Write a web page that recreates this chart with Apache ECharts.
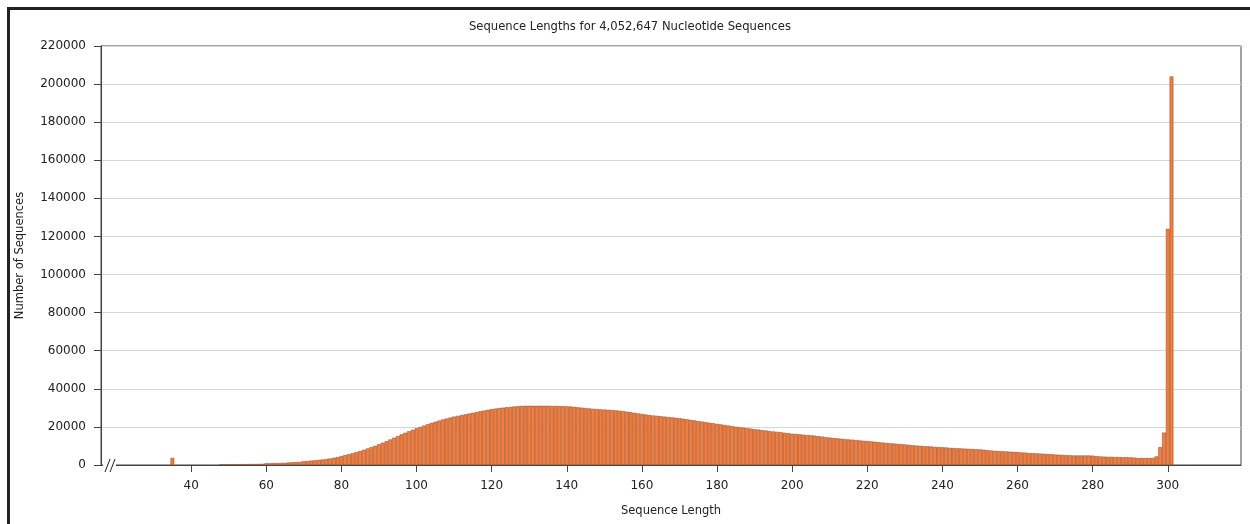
<!DOCTYPE html>
<html>
<head>
<meta charset="utf-8">
<title>Sequence Lengths</title>
<script src="https://cdn.jsdelivr.net/npm/echarts@6/dist/echarts.min.js"></script>
<style>
  html, body {margin: 0; padding: 0; background: #fff;}
  #seqLenChart {position: absolute; left: 0; top: 0; width: 1250px; height: 524px;}
  #frame {position: absolute; left: 7px; top: 7px; right: 0; bottom: 0; border-left: 3px solid #222; border-top: 3px solid #222; pointer-events: none;}
</style>
</head>
<body>
<div id="seqLenChart"></div>
<div id="frame"></div>
<script>
// sequence lengths and counts
const lonePeakLength = [35];
const lonePeakCount = [3700];

const firstLength = 48;
const counts = [
  // 48 - 59
  350, 380, 400, 400, 420, 430, 450, 470, 500, 520, 550, 600,
  // 60 - 79
  900, 950, 1000, 1050, 1100, 1150, 1350, 1450, 1550, 1650,
  2000, 2150, 2300, 2450, 2700, 2900, 3150, 3400, 3800, 4200,
  // 80 - 99
  4700, 5200, 5700, 6200, 6800, 7400, 8000, 8700, 9400, 10100,
  10900, 11700, 12500, 13400, 14300, 15200, 16100, 16900, 17700, 18500,
  // 100 - 119
  19300, 20000, 20700, 21400, 22100, 22700, 23300, 23900, 24400, 24900,
  25400, 25800, 26200, 26600, 27000, 27400, 27800, 28200, 28600, 29000,
  // 120 - 139
  29300, 29600, 29900, 30100, 30300, 30500, 30700, 30900, 31000, 31100,
  31100, 31100, 31100, 31100, 31100, 31100, 31000, 31000, 31000, 30900,
  // 140 - 159
  30800, 30700, 30500, 30300, 30100, 29900, 29700, 29500, 29400, 29200,
  29100, 29000, 28900, 28700, 28500, 28300, 28000, 27700, 27400, 27100,
  // 160 - 179
  26800, 26500, 26200, 26000, 25800, 25600, 25400, 25200, 25000, 24800,
  24600, 24300, 24000, 23700, 23400, 23100, 22800, 22500, 22200, 21900,
  // 180 - 199
  21600, 21300, 21000, 20700, 20400, 20100, 19800, 19600, 19300, 19100,
  18800, 18600, 18300, 18100, 17800, 17600, 17400, 17200, 16900, 16700,
  // 200 - 219
  16400, 16300, 16100, 15900, 15700, 15600, 15400, 15100, 14900, 14600,
  14400, 14200, 14000, 13800, 13600, 13400, 13300, 13100, 12900, 12700,
  // 220 - 239
  12600, 12400, 12200, 12000, 11800, 11600, 11400, 11300, 11100, 11000,
  10800, 10600, 10400, 10200, 10100, 9900, 9800, 9700, 9500, 9400,
  // 240 - 259
  9300, 9200, 9000, 8900, 8800, 8700, 8600, 8500, 8400, 8300,
  8200, 8000, 7800, 7600, 7400, 7300, 7200, 7100, 7000, 6900,
  // 260 - 279
  6800, 6600, 6500, 6300, 6200, 6100, 6000, 5900, 5800, 5700,
  5500, 5400, 5300, 5200, 5100, 5000, 5000, 5000, 5000, 5000,
  // 280 - 301
  4900, 4600, 4500, 4400, 4300, 4300, 4200, 4200, 4100, 4100,
  4000, 3900, 3700, 3700, 3700, 3700, 3700, 4500, 9400, 17000,
  124000, 204000
];

const xTickLabels = [40, 60, 80, 100, 120, 140, 160, 180, 200, 220, 240, 260, 280, 300];
const yTickLabels = [0, 20000, 40000, 60000, 80000, 100000, 120000, 140000, 160000, 180000, 200000, 220000];

const totalSequences = '4,052,647';

const barData = lonePeakLength.map((len, i) => [len, lonePeakCount[i]]);
counts.forEach((c, i) => barData.push([firstLength + i, c]));

const font = '"DejaVu Sans", sans-serif';
const textColor = '#222';

const option = {
  animation: false,
  title: {
    text: 'Sequence Lengths for ' + totalSequences + ' Nucleotide Sequences',
    left: 464,
    top: 16,
    textStyle: {fontFamily: font, fontSize: 11.6, fontWeight: 'normal', color: textColor}
  },
  grid: {left: 101, top: 46, right: 9, bottom: 59, show: true, borderColor: '#444', borderWidth: 1, containLabel: false},
  xAxis: {
    type: 'value',
    min: 16,
    max: 319.5,
    name: 'Sequence Length',
    nameLocation: 'middle',
    nameGap: 40,
    nameTextStyle: {fontFamily: font, fontSize: 11.5, color: textColor},
    axisLine: {show: true, onZero: false, lineStyle: {color: '#444'}},
    axisTick: {show: true, length: 7, customValues: xTickLabels, lineStyle: {color: '#444'}},
    axisLabel: {customValues: xTickLabels, fontFamily: font, fontSize: 12, color: textColor, margin: 15},
    splitLine: {show: false}
  },
  yAxis: {
    type: 'value',
    min: 0,
    max: 220000,
    interval: 20000,
    name: 'Number of Sequences',
    nameLocation: 'middle',
    nameGap: 75,
    nameRotate: 90,
    nameTextStyle: {fontFamily: font, fontSize: 11.5, color: textColor},
    axisLine: {show: true, lineStyle: {color: '#444'}},
    axisTick: {show: true, length: 7, lineStyle: {color: '#444'}},
    axisLabel: {
      fontFamily: font, fontSize: 12, color: textColor, margin: 15,
      formatter: v => (yTickLabels.indexOf(v) >= 0 ? String(v) : '')
    },
    splitLine: {show: true, lineStyle: {color: '#d6d6d6', width: 1}}
  },
  series: [
    {
      name: 'Sequences',
      type: 'bar',
      barWidth: 3.7,
      data: barData,
      itemStyle: {color: '#f47c3c', borderColor: '#8b4a2b', borderWidth: 0.5}
    }
  ]
};

const chart = echarts.init(document.getElementById('seqLenChart'), null, {renderer: 'canvas'});
chart.setOption(option);

// one length unit wide bars, so neighbours touch
const origin = chart.convertToPixel({gridIndex: 0}, [16, 0]);
const unit = chart.convertToPixel({gridIndex: 0}, [17, 0])[0] - origin[0];
chart.setOption({
  series: [{barWidth: unit}],
  // axis break mark "//" just right of the origin
  graphic: [
    {type: 'rect', shape: {x: origin[0] + 2, y: origin[1] - 6, width: 13, height: 12}, style: {fill: '#fff'}, z: 100},
    {type: 'line', shape: {x1: origin[0] + 4, y1: origin[1] + 7, x2: origin[0] + 9, y2: origin[1] - 6}, style: {stroke: '#222', lineWidth: 1}, z: 101},
    {type: 'line', shape: {x1: origin[0] + 9, y1: origin[1] + 7, x2: origin[0] + 14, y2: origin[1] - 6}, style: {stroke: '#222', lineWidth: 1}, z: 101}
  ]
});
</script>
</body>
</html>
